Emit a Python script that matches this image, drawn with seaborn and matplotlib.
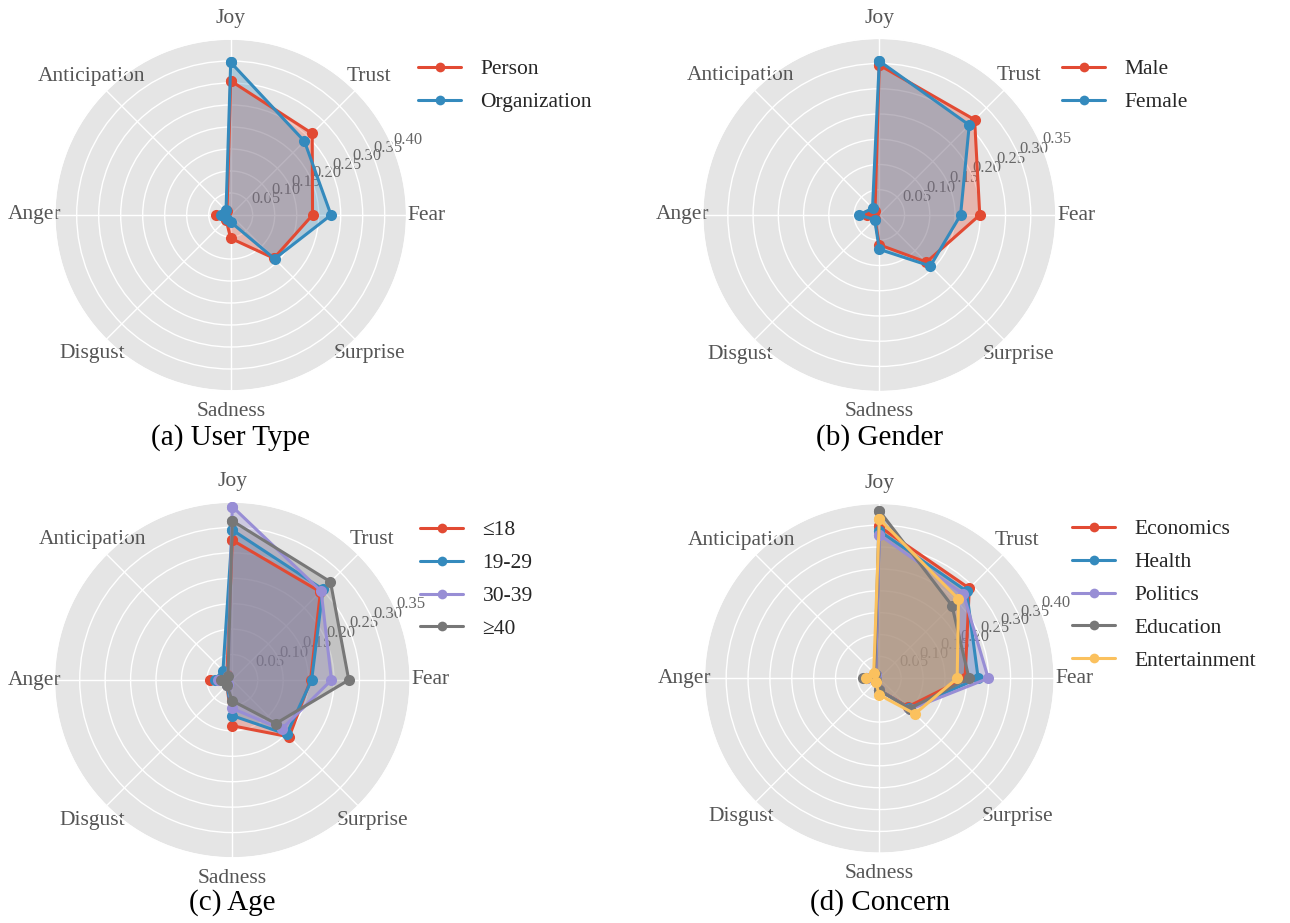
import numpy as np
import pandas as pd
import matplotlib
matplotlib.use("Agg")
import matplotlib.pyplot as plt
import seaborn as sns
from matplotlib.lines import Line2D

# Emotion categories, clockwise from the top
emotions = ["Joy", "Trust", "Fear", "Surprise", "Sadness", "Disgust", "Anger", "Anticipation"]

# (a) User type
user_type_groups = ["Person", "Organization"]
person = [0.305, 0.262, 0.186, 0.139, 0.053, 0.015, 0.034, 0.012]
organization = [0.347, 0.237, 0.228, 0.141, 0.016, 0.012, 0.022, 0.015]

# (b) Gender
gender_groups = ["Male", "Female"]
male = [0.297, 0.267, 0.199, 0.132, 0.059, 0.012, 0.025, 0.012]
female = [0.305, 0.252, 0.161, 0.143, 0.068, 0.013, 0.040, 0.019]

# (c) Age
age_groups = ["≤18", "19-29", "30-39", "≥40"]
age_18 = [0.275, 0.245, 0.154, 0.158, 0.090, 0.015, 0.044, 0.015]
age_19_29 = [0.295, 0.252, 0.156, 0.151, 0.070, 0.015, 0.035, 0.026]
age_30_39 = [0.341, 0.247, 0.195, 0.137, 0.056, 0.012, 0.028, 0.012]
age_40 = [0.313, 0.273, 0.229, 0.121, 0.041, 0.015, 0.022, 0.012]

# (d) Concern
concern_groups = ["Economics", "Health", "Politics", "Education", "Entertainment"]
economics = [0.347, 0.291, 0.196, 0.092, 0.027, 0.010, 0.030, 0.012]
health = [0.337, 0.282, 0.226, 0.097, 0.027, 0.010, 0.030, 0.012]
politics = [0.328, 0.272, 0.249, 0.100, 0.027, 0.010, 0.028, 0.012]
education = [0.383, 0.235, 0.205, 0.098, 0.027, 0.010, 0.038, 0.015]
entertainment = [0.364, 0.256, 0.178, 0.115, 0.038, 0.012, 0.030, 0.018]

captions = ["(a) User Type", "(b) Gender", "(c) Age", "(d) Concern"]
radial_max = [0.40, 0.35, 0.35, 0.40]

palette = ["#E24A33", "#348ABD", "#988ED5", "#777777", "#FBC15E"]

sns.set_theme(style="darkgrid", rc={
    "axes.facecolor": "#E5E5E5",
    "grid.color": "white",
    "grid.linewidth": 1.0,
    "axes.edgecolor": "white",
    "xtick.color": "#555555",
    "ytick.color": "#555555",
})
plt.rcParams["font.family"] = ["Liberation Serif", "DejaVu Serif"]

W, H = 1290, 923
fig = plt.figure(figsize=(W / 100, H / 100), dpi=100)
fig.patch.set_facecolor("white")

# panel centres and radii in pixels (from top-left)
geometry = [(230.7, 215.0, 176.0), (879.3, 215.0, 176.7),
            (232.3, 680.0, 178.0), (879.3, 678.3, 175.0)]
legend_anchor = [(418, 59), (1062, 59), (420, 520), (1072, 519)]
caption_pos = [(230, 438), (880, 438), (232, 903), (880, 903)]

panels = [
    (user_type_groups, [person, organization]),
    (gender_groups, [male, female]),
    (age_groups, [age_18, age_19_29, age_30_39, age_40]),
    (concern_groups, [economics, health, politics, education, entertainment]),
]

theta = np.linspace(0, 2 * np.pi, len(emotions), endpoint=False)
theta_closed = np.append(theta, 2 * np.pi)

for i, (groups, series) in enumerate(panels):
    cx, cy, r = geometry[i]
    rect = [(cx - r) / W, (H - cy - r) / H, 2 * r / W, 2 * r / H]
    ax = fig.add_axes(rect, projection="polar")
    ax.set_theta_offset(np.pi / 2)
    ax.set_theta_direction(-1)

    rows = []
    for g, vals in zip(groups, series):
        for t, v in zip(theta_closed, list(vals) + [vals[0]]):
            rows.append((g, t, v))
    df = pd.DataFrame(rows, columns=["group", "theta", "value"])
    colors = palette[:len(groups)]

    for g, c in zip(groups, colors):
        sub = df[df["group"] == g]
        ax.fill(sub["theta"], sub["value"], color=c, alpha=0.3, linewidth=0, zorder=2)

    sns.lineplot(data=df, x="theta", y="value", hue="group", hue_order=groups,
                 palette=colors, sort=False, estimator=None, marker="o",
                 markersize=8, markeredgewidth=0, linewidth=2.2,
                 legend=False, ax=ax, zorder=3)

    rmax = radial_max[i]
    ax.set_ylim(0, rmax)
    ticks = np.arange(0.05, rmax + 1e-9, 0.05)
    ax.set_yticks(ticks)
    ax.set_yticklabels([f"{t:.2f}" for t in ticks], fontsize=12, color="#666666")
    ax.set_rlabel_position(67.5)
    ax.set_xticks(theta)
    ax.set_xticklabels(emotions, fontsize=15.5, color="#555555")
    ax.tick_params(axis="x", pad=1.5)
    ax.set_xlabel("")
    ax.set_ylabel("")
    ax.grid(True, color="white", linewidth=1.0)

    handles = [Line2D([0], [0], color=c, linewidth=2.2, marker="o", markersize=7,
                      markeredgewidth=0) for c in colors]
    lx, ly = legend_anchor[i]
    fig.legend(handles, groups, loc="upper left",
               bbox_to_anchor=(lx / W, 1 - ly / H), bbox_transform=fig.transFigure,
               frameon=False, borderpad=0, borderaxespad=0, fontsize=15.5,
               handlelength=2.0, handletextpad=0.9, labelspacing=0.6)

    px, py = caption_pos[i]
    fig.text(px / W, 1 - py / H, captions[i], ha="center", va="center",
             fontsize=21, color="black")

fig.savefig("out.png", dpi=100, facecolor="white")
